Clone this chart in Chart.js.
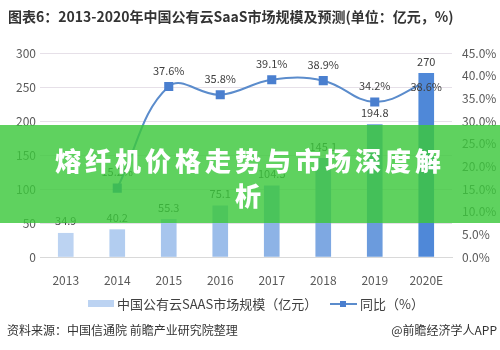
<!DOCTYPE html>
<html>
<head>
<meta charset="utf-8">
<script src="https://cdn.jsdelivr.net/npm/chart.js@4"></script>
<style>
  html, body { margin: 0; padding: 0; background: #fff; }
  #wrap { position: relative; width: 500px; height: 350px; }
  #banner {
    position: absolute; left: 0; top: 125px; width: 500px; height: 98px;
    background: rgba(60, 200, 60, 0.82);
    box-sizing: border-box; padding: 17px 50px 0 50px;
    color: #fff; text-align: center;
    font-family: "Noto Sans CJK SC", sans-serif; font-weight: 900;
    font-size: 26px; line-height: 35px; letter-spacing: 4px;
  }
</style>
</head>
<body>
<div id="wrap">
  <canvas id="myChart" width="500" height="350"></canvas>
  <div id="banner">熔纤机价格走势与市场深度解析</div>
</div>
<script>
const years = ['2013', '2014', '2015', '2016', '2017', '2018', '2019', '2020E'];
const marketSize = [34.9, 40.2, 55.3, 75.1, 104.5, 145.1, 194.8, 270];
const growth = [null, 15.2, 37.6, 35.8, 39.1, 38.9, 34.2, 38.6];
const barColors = ['#bcd3f2', '#b2cdf0', '#a7c5ed', '#9bbdea', '#8db3e6', '#7ea8e2', '#6b9bdd', '#4f88d8'];

const FONT = '"Noto Sans CJK SC", "Noto Sans", sans-serif';

const title = '图表6：2013-2020年中国公有云SaaS市场规模及预测(单位：亿元，%)';
const barLabel = '中国公有云SAAS市场规模（亿元）';
const lineLabel = '同比（%）';
const source = '资料来源：中国信通院 前瞻产业研究院整理';
const credit = '@前瞻经济学人APP';

// labels on bars / points + title, legend, footer
const extras = {
    id: 'extras',
    afterDatasetsDraw(chart) {
        const c = chart.ctx;
        c.save();
        c.font = '11px ' + FONT;
        c.fillStyle = '#404040';
        c.textAlign = 'center';
        c.textBaseline = 'middle';
        chart.getDatasetMeta(0).data.forEach((el, i) => {
            c.fillText(String(marketSize[i]), el.x, el.y - 12);
        });
        chart.getDatasetMeta(1).data.forEach((el, i) => {
            if (growth[i] == null) return;
            const last = i === growth.length - 1;
            c.fillText(growth[i].toFixed(1) + '%', el.x, last ? el.y + 5 : el.y - 16);
        });
        c.restore();
    },
    afterDraw(chart) {
        const c = chart.ctx;
        c.save();
        c.textBaseline = 'middle';
        c.fillStyle = '#333';
        c.font = 'bold 14px ' + FONT;
        c.textAlign = 'left';
        c.fillText(title, 8, 17);

        // legend
        c.font = '13px ' + FONT;
        c.fillStyle = '#bcd3f2';
        c.fillRect(88, 300, 26, 7);
        c.fillStyle = '#404040';
        c.fillText(barLabel, 117, 304);
        c.strokeStyle = '#5b8ccc';
        c.lineWidth = 2;
        c.beginPath();
        c.moveTo(330, 304);
        c.lineTo(357, 304);
        c.stroke();
        c.fillStyle = '#4a7fcf';
        c.fillRect(340, 301, 6, 6);
        c.fillStyle = '#404040';
        c.fillText(lineLabel, 360, 304);

        // footer
        c.font = '12px ' + FONT;
        c.fillStyle = '#333';
        c.fillText(source, 7, 330);
        c.textAlign = 'right';
        c.fillText(credit, 497, 330);
        c.restore();
    }
};

new Chart(document.getElementById('myChart'), {
    data: {
        labels: years,
        datasets: [{
            type: 'bar',
            label: barLabel,
            data: marketSize,
            backgroundColor: barColors,
            barThickness: 15,
            yAxisID: 'y'
        }, {
            type: 'line',
            label: lineLabel,
            data: growth,
            borderColor: '#5b8ccc',
            borderWidth: 2,
            tension: 0.4,
            pointStyle: 'rect',
            pointRadius: 5,
            pointBackgroundColor: '#4a7fcf',
            pointBorderColor: '#4a7fcf',
            yAxisID: 'y1'
        }]
    },
    options: {
        responsive: false,
        animation: false,
        layout: { padding: { top: 53, bottom: 63, left: 0, right: 0 } },
        plugins: {
            legend: { display: false },
            tooltip: { enabled: false }
        },
        scales: {
            x: {
                grid: { display: false },
                border: { color: '#d9d9d9' },
                ticks: { color: '#595959', font: { size: 12, family: FONT }, padding: 8 },
                afterFit(s) { s.height = 30; }
            },
            y: {
                position: 'left',
                min: 0, max: 300,
                ticks: { stepSize: 50, color: '#595959', font: { size: 12, family: FONT }, padding: 4 },
                grid: { color: '#e6e0e8', drawTicks: false },
                border: { display: false },
                afterFit(s) { s.width = 40; }
            },
            y1: {
                position: 'right',
                min: 0, max: 45,
                ticks: {
                    stepSize: 5, color: '#595959', font: { size: 12, family: FONT }, padding: 10,
                    callback: v => v.toFixed(1) + '%'
                },
                grid: { display: false, drawTicks: false },
                border: { display: false },
                afterFit(s) { s.width = 48; }
            }
        }
    },
    plugins: [extras]
});
</script>
</body>
</html>
